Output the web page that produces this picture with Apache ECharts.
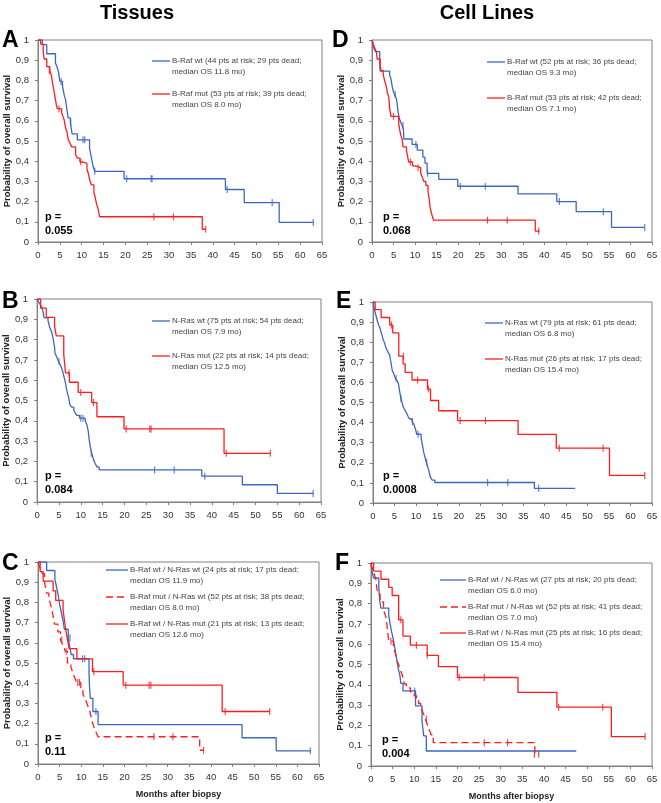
<!DOCTYPE html>
<html><head><meta charset="utf-8">
<script src="https://cdn.jsdelivr.net/npm/echarts@6/dist/echarts.min.js"></script>
<style>html,body{margin:0;padding:0;background:#fff}#c{width:661px;height:803px}</style>
</head><body><div id="c"></div>
<script>
// ---------- Panel A (Tissues, B-Raf) ----------
const aWtT = [0, 1.0, 2.0, 4.0, 4.4, 4.7, 5.0, 5.6, 6.0, 6.3, 6.6, 6.9, 7.4, 7.8, 9.0, 11.8, 12.2, 12.6, 13.0, 19.7, 42.9, 47.2, 55.2, 63.0];
const aWtS = [1, 0.977, 0.932, 0.886, 0.864, 0.841, 0.795, 0.773, 0.727, 0.705, 0.659, 0.614, 0.591, 0.535, 0.506, 0.464, 0.42, 0.375, 0.35, 0.313, 0.26, 0.195, 0.097, 0.097];
const aWtCT = [5.3, 7.5, 10.3, 10.7, 13.0, 20.3, 25.9, 26.1, 43.3, 53.6, 63.0];
const aWtCS = [0.795, 0.591, 0.506, 0.506, 0.35, 0.313, 0.313, 0.313, 0.26, 0.195, 0.097];
const aMutT = [0, 0.6, 1.2, 1.4, 2.0, 2.7, 3.0, 3.3, 3.6, 3.9, 4.2, 4.4, 5.4, 5.7, 6.0, 6.3, 6.6, 6.9, 7.3, 7.7, 8.6, 9.0, 9.6, 10.3, 11.2, 11.5, 11.9, 12.2, 12.8, 13.1, 13.4, 13.8, 14.1, 37.6, 38.4];
const aMutS = [1, 0.98, 0.943, 0.906, 0.868, 0.849, 0.83, 0.792, 0.755, 0.717, 0.679, 0.66, 0.641, 0.622, 0.604, 0.566, 0.547, 0.509, 0.49, 0.471, 0.433, 0.415, 0.396, 0.389, 0.36, 0.34, 0.302, 0.283, 0.245, 0.22, 0.189, 0.16, 0.125, 0.063, 0.063];
const aMutCT = [2.6, 4.8, 9.8, 26.5, 31.0, 38.4];
const aMutCS = [0.849, 0.66, 0.396, 0.125, 0.125, 0.063];

// ---------- Panel B (Tissues, N-Ras) ----------
const bWtT = [0, 0.3, 0.7, 1.1, 1.4, 1.6, 2.5, 2.8, 3.0, 3.3, 3.6, 3.8, 4.0, 4.1, 4.4, 4.6, 4.9, 5.2, 5.5, 5.9, 6.2, 6.5, 6.7, 7.0, 7.3, 7.5, 7.9, 8.4, 8.7, 9.1, 9.7, 11.0, 11.4, 11.7, 11.9, 12.2, 12.5, 12.9, 13.3, 13.7, 14.2, 37.7, 47.0, 55.0, 63.2];
const bWtS = [1, 0.987, 0.973, 0.96, 0.933, 0.907, 0.893, 0.867, 0.853, 0.84, 0.813, 0.787, 0.76, 0.733, 0.72, 0.707, 0.693, 0.68, 0.667, 0.64, 0.613, 0.587, 0.56, 0.533, 0.507, 0.48, 0.467, 0.453, 0.44, 0.427, 0.413, 0.4, 0.38, 0.35, 0.31, 0.27, 0.24, 0.21, 0.19, 0.173, 0.158, 0.127, 0.085, 0.042, 0.042];
const bWtCT = [5.0, 10.0, 10.5, 12.4, 26.9, 31.4, 38.4, 63.2];
const bWtCS = [0.693, 0.413, 0.413, 0.24, 0.158, 0.158, 0.127, 0.042];
const bMutT = [0, 0.8, 2.1, 4.0, 4.4, 6.1, 6.3, 6.5, 7.4, 9.4, 12.5, 13.7, 19.9, 42.8, 53.4];
const bMutS = [1, 0.955, 0.909, 0.864, 0.818, 0.727, 0.682, 0.636, 0.59, 0.54, 0.49, 0.42, 0.36, 0.24, 0.24];
const bMutCT = [7.3, 10.0, 12.9, 20.4, 25.8, 26.1, 43.3, 53.4];
const bMutCS = [0.636, 0.54, 0.49, 0.36, 0.36, 0.36, 0.24, 0.24];

// ---------- Panel C (Tissues, combined) ----------
const cWwT = [0, 2.0, 3.9, 4.3, 4.7, 5.0, 5.4, 5.8, 6.1, 7.0, 7.3, 7.7, 8.2, 11.8, 11.9, 12.1, 12.7, 13.9, 47.2, 55.1, 63.0];
const cWwS = [1, 0.958, 0.917, 0.875, 0.833, 0.792, 0.75, 0.708, 0.667, 0.625, 0.583, 0.542, 0.521, 0.455, 0.39, 0.325, 0.26, 0.195, 0.13, 0.065, 0.065];
const cWwCT = [7.4, 10.3, 10.8, 13.4, 63.0];
const cWwCS = [0.625, 0.521, 0.521, 0.26, 0.065];
const cMwT = [0, 0.3, 0.6, 1.0, 1.5, 1.8, 2.0, 2.5, 2.9, 3.2, 3.5, 3.8, 4.6, 5.2, 5.6, 6.0, 6.3, 6.8, 7.6, 7.9, 8.2, 8.6, 8.9, 9.9, 10.4, 10.8, 11.2, 11.5, 11.9, 12.1, 12.5, 12.8, 13.1, 13.5, 13.9, 37.4, 38.3];
const cMwS = [1, 0.981, 0.962, 0.942, 0.904, 0.865, 0.846, 0.827, 0.788, 0.769, 0.731, 0.692, 0.654, 0.615, 0.596, 0.577, 0.558, 0.5, 0.481, 0.462, 0.442, 0.423, 0.404, 0.365, 0.346, 0.327, 0.308, 0.288, 0.269, 0.25, 0.212, 0.192, 0.173, 0.154, 0.135, 0.068, 0.068];
const cMwCT = [5.5, 6.5, 9.2, 9.6, 26.8, 31.2, 38.3];
const cMwCS = [0.615, 0.558, 0.404, 0.404, 0.135, 0.135, 0.068];
const cWmT = [0, 0.5, 1.2, 3.5, 4.1, 5.8, 6.1, 6.4, 6.8, 7.2, 9.0, 12.6, 19.7, 42.6, 53.6];
const cWmS = [1, 0.952, 0.905, 0.857, 0.81, 0.762, 0.714, 0.667, 0.619, 0.571, 0.52, 0.457, 0.39, 0.26, 0.26];
const cWmCT = [7.0, 12.9, 20.3, 25.7, 26.1, 43.3, 53.6];
const cWmCS = [0.619, 0.457, 0.39, 0.39, 0.39, 0.26, 0.26];

// ---------- Panel D (Cell lines, B-Raf) ----------
const dWtT = [0, 0.4, 0.8, 1.8, 1.9, 4.1, 4.4, 4.7, 4.9, 5.2, 5.6, 5.8, 6.0, 6.3, 6.6, 7.0, 7.3, 7.4, 9.3, 10.5, 11.8, 12.3, 12.8, 15.5, 19.9, 33.9, 42.9, 47.4, 55.6, 63.3];
const dWtS = [1, 0.962, 0.942, 0.904, 0.846, 0.827, 0.808, 0.769, 0.75, 0.731, 0.712, 0.692, 0.654, 0.615, 0.596, 0.577, 0.558, 0.51, 0.483, 0.455, 0.42, 0.39, 0.34, 0.31, 0.276, 0.238, 0.2, 0.15, 0.072, 0.072];
const dWtCT = [5.4, 7.2, 10.2, 12.9, 20.5, 26.3, 43.5, 53.7, 63.3];
const dWtCS = [0.731, 0.577, 0.483, 0.34, 0.276, 0.276, 0.2, 0.15, 0.072];
const dMutT = [0, 0.3, 0.6, 1.0, 1.2, 1.9, 2.1, 2.6, 3.0, 3.3, 3.6, 3.9, 4.1, 4.4, 6.2, 6.5, 6.7, 7.0, 7.2, 8.0, 8.2, 8.5, 9.4, 10.0, 11.3, 11.7, 12.0, 12.5, 13.0, 13.3, 13.5, 13.9, 14.3, 37.9, 38.9];
const dMutS = [1, 0.981, 0.962, 0.943, 0.906, 0.868, 0.849, 0.83, 0.792, 0.773, 0.736, 0.717, 0.66, 0.622, 0.585, 0.547, 0.528, 0.509, 0.471, 0.452, 0.433, 0.396, 0.377, 0.368, 0.34, 0.32, 0.3, 0.28, 0.25, 0.21, 0.17, 0.135, 0.108, 0.054, 0.054];
const dMutCT = [5.0, 8.9, 10.7, 26.8, 31.4, 38.7];
const dMutCS = [0.622, 0.396, 0.368, 0.108, 0.108, 0.054];

// ---------- Panel E (Cell lines, N-Ras) ----------
const eWtT = [0, 0.2, 0.5, 0.8, 1.1, 1.3, 1.6, 1.9, 2.1, 2.4, 2.7, 3.0, 3.3, 3.6, 3.9, 4.1, 4.3, 4.5, 4.8, 5.2, 5.6, 5.9, 6.1, 6.3, 6.5, 6.7, 7.0, 7.3, 7.6, 7.9, 8.2, 8.5, 9.1, 9.5, 9.9, 10.2, 11.2, 11.4, 11.6, 11.8, 12.1, 12.4, 12.8, 13.1, 13.4, 13.8, 14.4, 37.6, 47.1];
const eWtS = [1, 0.975, 0.949, 0.924, 0.899, 0.886, 0.873, 0.848, 0.835, 0.81, 0.797, 0.772, 0.759, 0.747, 0.734, 0.709, 0.684, 0.658, 0.646, 0.62, 0.608, 0.595, 0.57, 0.544, 0.52, 0.506, 0.481, 0.468, 0.456, 0.443, 0.43, 0.418, 0.405, 0.392, 0.367, 0.342, 0.33, 0.3, 0.278, 0.253, 0.228, 0.203, 0.177, 0.152, 0.127, 0.114, 0.102, 0.073, 0.073];
const eWtCT = [5.4, 6.5, 9.2, 10.5, 12.5, 26.7, 31.4, 38.6];
const eWtCS = [0.62, 0.52, 0.405, 0.342, 0.203, 0.102, 0.102, 0.073];
const eMutT = [0, 0.5, 1.9, 3.9, 4.6, 6.0, 7.0, 7.5, 9.1, 12.7, 13.4, 15.3, 19.7, 33.8, 42.7, 55.1, 63.3];
const eMutS = [1, 0.962, 0.923, 0.885, 0.846, 0.731, 0.692, 0.65, 0.612, 0.567, 0.51, 0.459, 0.41, 0.341, 0.273, 0.137, 0.137];
const eMutCT = [4.3, 7.1, 10.4, 12.9, 20.3, 26.2, 43.4, 53.6, 63.3];
const eMutCS = [0.885, 0.731, 0.612, 0.567, 0.41, 0.41, 0.273, 0.273, 0.137];

// ---------- Panel F (Cell lines, combined) ----------
const fWwT = [0, 0.2, 0.6, 1.8, 1.9, 2.0, 2.3, 4.1, 4.4, 4.7, 5.1, 5.4, 5.7, 6.0, 6.3, 6.7, 6.9, 7.4, 10.3, 11.8, 12.2, 12.8, 47.5];
const fWwS = [1, 0.963, 0.926, 0.889, 0.852, 0.815, 0.778, 0.741, 0.704, 0.667, 0.63, 0.593, 0.556, 0.519, 0.481, 0.444, 0.407, 0.37, 0.296, 0.222, 0.148, 0.074, 0.074];
const fWwCT = [10.1];
const fWwCS = [0.37];
const fMwT = [0, 0.2, 0.5, 0.8, 1.1, 1.3, 1.6, 2.1, 2.9, 3.2, 3.5, 3.7, 3.9, 4.1, 5.2, 5.6, 6.0, 6.4, 6.6, 7.0, 7.3, 7.7, 8.2, 9.1, 10.0, 10.5, 11.0, 11.5, 11.9, 12.3, 12.6, 12.9, 13.2, 13.6, 13.9, 14.4, 37.9, 38.8];
const fMwS = [1, 0.981, 0.962, 0.942, 0.923, 0.885, 0.846, 0.808, 0.769, 0.75, 0.731, 0.692, 0.654, 0.615, 0.577, 0.558, 0.519, 0.5, 0.481, 0.462, 0.442, 0.404, 0.385, 0.365, 0.346, 0.327, 0.308, 0.288, 0.269, 0.25, 0.231, 0.212, 0.192, 0.173, 0.154, 0.115, 0.058, 0.058];
const fMwCT = [4.6, 10.3, 12.8, 26.2, 31.6, 37.8, 38.8];
const fMwCS = [0.615, 0.346, 0.231, 0.115, 0.115, 0.058, 0.058];
const fWmT = [0, 0.6, 2.3, 4.1, 4.9, 6.4, 7.4, 9.1, 13.0, 15.6, 20.0, 34.0, 43.0, 55.6, 63.4];
const fWmS = [1, 0.96, 0.92, 0.88, 0.84, 0.72, 0.64, 0.595, 0.545, 0.49, 0.436, 0.363, 0.29, 0.145, 0.145];
const fWmCT = [6.9, 10.5, 13.0, 20.4, 26.2, 43.4, 53.6, 63.4];
const fWmCS = [0.72, 0.595, 0.545, 0.436, 0.436, 0.29, 0.29, 0.145];

// ---------- Texts ----------
const columnTitles = ['Tissues', 'Cell Lines'];
const panelLetters = ['A', 'B', 'C', 'D', 'E', 'F'];
const pValues = ['0.055', '0.084', '0.11', '0.068', '0.0008', '0.004'];
const legA = [['B-Raf wt (44 pts at risk; 29 pts dead;', 'median OS 11.8 mo)'], ['B-Raf mut (53 pts at risk; 39 pts dead;', 'median OS 8.0 mo)']];
const legB = [['N-Ras wt (75 pts at risk; 54 pts dead;', 'median OS 7.9 mo)'], ['N-Ras mut (22 pts at risk; 14 pts dead;', 'median OS 12.5 mo)']];
const legC = [['B-Raf wt / N-Ras wt (24 pts at risk; 17 pts dead;', 'median OS 11.9 mo)'], ['B-Raf mut / N-Ras wt (52 pts at risk; 38 pts dead;', 'median OS 8.0 mo)'], ['B-Raf wt / N-Ras mut (21 pts at risk; 13 pts dead;', 'median OS 12.6 mo)']];
const legD = [['B-Raf wt (52 pts at risk; 36 pts dead;', 'median OS 9.3 mo)'], ['B-Raf mut (53 pts at risk; 42 pts dead;', 'median OS 7.1 mo)']];
const legE = [['N-Ras wt (79 pts at risk; 61 pts dead;', 'median OS 6.8 mo)'], ['N-Ras mut (26 pts at risk; 17 pts dead;', 'median OS 15.4 mo)']];
const legF = [['B-Raf wt / N-Ras wt (27 pts at risk; 20 pts dead;', 'median OS 6.0 mo)'], ['B-Raf mut / N-Ras wt (52 pts at risk; 41 pts dead;', 'median OS 7.0 mo)'], ['B-Raf wt / N-Ras mut (25 pts at risk; 16 pts dead;', 'median OS 15.4 mo)']];
const yName = 'Probability of overall survival';
const xName = 'Months after biopsy';

// ---------- Styling / layout ----------
const FONT = "'Liberation Sans', Arial, sans-serif";
const BLUE = '#3d66c4', RED = '#ff1c1c', AXC = '#808080';
const grids = [
  {left: 38, top: 40, width: 284, height: 202},   // A
  {left: 36, top: 299, width: 285, height: 203},  // B
  {left: 38, top: 562, width: 281, height: 202},  // C
  {left: 372, top: 40, width: 280, height: 202},  // D
  {left: 373, top: 302, width: 279, height: 201}, // E
  {left: 371, top: 563, width: 281, height: 203}  // F
];
const curves = [
  {g: 0, t: aWtT, s: aWtS, ct: aWtCT, cs: aWtCS, c: BLUE},
  {g: 0, t: aMutT, s: aMutS, ct: aMutCT, cs: aMutCS, c: RED},
  {g: 1, t: bWtT, s: bWtS, ct: bWtCT, cs: bWtCS, c: BLUE},
  {g: 1, t: bMutT, s: bMutS, ct: bMutCT, cs: bMutCS, c: RED},
  {g: 2, t: cWwT, s: cWwS, ct: cWwCT, cs: cWwCS, c: BLUE},
  {g: 2, t: cMwT, s: cMwS, ct: cMwCT, cs: cMwCS, c: RED, dash: true},
  {g: 2, t: cWmT, s: cWmS, ct: cWmCT, cs: cWmCS, c: RED},
  {g: 3, t: dWtT, s: dWtS, ct: dWtCT, cs: dWtCS, c: BLUE},
  {g: 3, t: dMutT, s: dMutS, ct: dMutCT, cs: dMutCS, c: RED},
  {g: 4, t: eWtT, s: eWtS, ct: eWtCT, cs: eWtCS, c: BLUE},
  {g: 4, t: eMutT, s: eMutS, ct: eMutCT, cs: eMutCS, c: RED},
  {g: 5, t: fWwT, s: fWwS, ct: fWwCT, cs: fWwCS, c: BLUE},
  {g: 5, t: fMwT, s: fMwS, ct: fMwCT, cs: fMwCS, c: RED, dash: true},
  {g: 5, t: fWmT, s: fWmS, ct: fWmCT, cs: fWmCS, c: RED}
];
const DASH = [7, 4];

const series = [];
curves.forEach(cv => {
  series.push({
    type: 'line', step: 'end', xAxisIndex: cv.g, yAxisIndex: cv.g,
    showSymbol: false, symbol: 'none', silent: true,
    data: cv.t.map((v, i) => [v, cv.s[i]]),
    lineStyle: {color: cv.c, width: 1.3, type: cv.dash ? DASH : 'solid'}
  });
  series.push({
    type: 'scatter', xAxisIndex: cv.g, yAxisIndex: cv.g, silent: true,
    symbol: 'rect', symbolSize: [1.2, 7],
    itemStyle: {color: cv.c},
    data: cv.ct.map((v, i) => [v, cv.cs[i]])
  });
});

const yFmt = v => (v === 0 ? '0' : v === 1 ? '1' : v.toFixed(1).replace('.', ','));
const xAxis = grids.map((g, i) => ({
  gridIndex: i, type: 'value', min: 0, max: 65, interval: 5,
  axisLine: {show: true, lineStyle: {color: AXC}}, splitLine: {show: false},
  axisTick: {show: true, length: 3, lineStyle: {color: AXC}},
  axisLabel: {fontSize: 9.5, color: '#333', fontFamily: FONT, margin: 8},
  name: (i === 2 || i === 5) ? xName : '', nameLocation: 'middle', nameGap: 26,
  nameTextStyle: {fontSize: 9, fontWeight: 'bold', color: '#222', fontFamily: FONT}
}));
const yAxis = grids.map((g, i) => ({
  gridIndex: i, type: 'value', min: 0, max: 1, interval: 0.1,
  axisLine: {show: true, lineStyle: {color: AXC}}, splitLine: {show: false},
  axisTick: {show: true, length: 3, lineStyle: {color: AXC}},
  axisLabel: {fontSize: 9.5, color: '#333', fontFamily: FONT, margin: 9, formatter: yFmt},
  name: yName, nameLocation: 'middle', nameGap: 25,
  nameTextStyle: {fontSize: 9.5, fontWeight: 'bold', color: '#222', fontFamily: FONT}
}));

// graphic texts
const graphic = [];
function txt(x, y, text, font, fill, align, valign) {
  graphic.push({type: 'text', x: x, y: y, silent: true,
    style: {text: text, font: font, fill: fill || '#000', align: align || 'left', verticalAlign: valign || 'middle'}});
}
txt(137, 13, columnTitles[0], "bold 20px " + FONT, '#000', 'center');
txt(487, 13, columnTitles[1], "bold 20px " + FONT, '#000', 'center');
const letterPos = [[2, 41], [2, 302], [2, 564], [332, 41], [336, 302], [335, 564]];
panelLetters.forEach((L, i) => txt(letterPos[i][0], letterPos[i][1], L, "bold 23px " + FONT, '#000'));
const pPos = [[45, 217], [45, 476], [45, 738], [383, 217], [383, 476], [382, 740]];
pValues.forEach((p, i) => {
  txt(pPos[i][0], pPos[i][1], 'p =', "bold 11px " + FONT, '#000');
  txt(pPos[i][0], pPos[i][1] + 13.5, p, "bold 11px " + FONT, '#000');
});
function legend(items, styles, x1, x2, ys) {
  items.forEach((it, k) => {
    const st = styles[k];
    graphic.push({type: 'line', silent: true, shape: {x1: x1, y1: ys[k], x2: x2, y2: ys[k]},
      style: {stroke: st.c, lineWidth: 1.3, lineDash: st.dash ? DASH : null}});
    txt(x2 + 2, ys[k], it[0], "8px " + FONT, '#444');
    txt(x2 + 2, ys[k] + 10.3, it[1], "8px " + FONT, '#444');
  });
}
const S2 = [{c: BLUE}, {c: RED}];
const S3 = [{c: BLUE}, {c: RED, dash: true}, {c: RED}];
legend(legA, S2, 152, 170, [61, 94]);
legend(legB, S2, 152, 170, [321, 356]);
legend(legC, S3, 106, 128, [570, 597, 624]);
legend(legD, S2, 487, 505, [62, 98]);
legend(legE, S2, 485, 503, [323, 359]);
legend(legF, S3, 440, 466, [580, 607, 633]);

const chart = echarts.init(document.getElementById('c'), null, {renderer: 'canvas'});
chart.setOption({
  animation: false,
  backgroundColor: '#fff',
  grid: grids.map(g => Object.assign({show: true, borderColor: AXC, borderWidth: 1}, g)),
  xAxis: xAxis, yAxis: yAxis, series: series, graphic: graphic
});
</script>
</body></html>
